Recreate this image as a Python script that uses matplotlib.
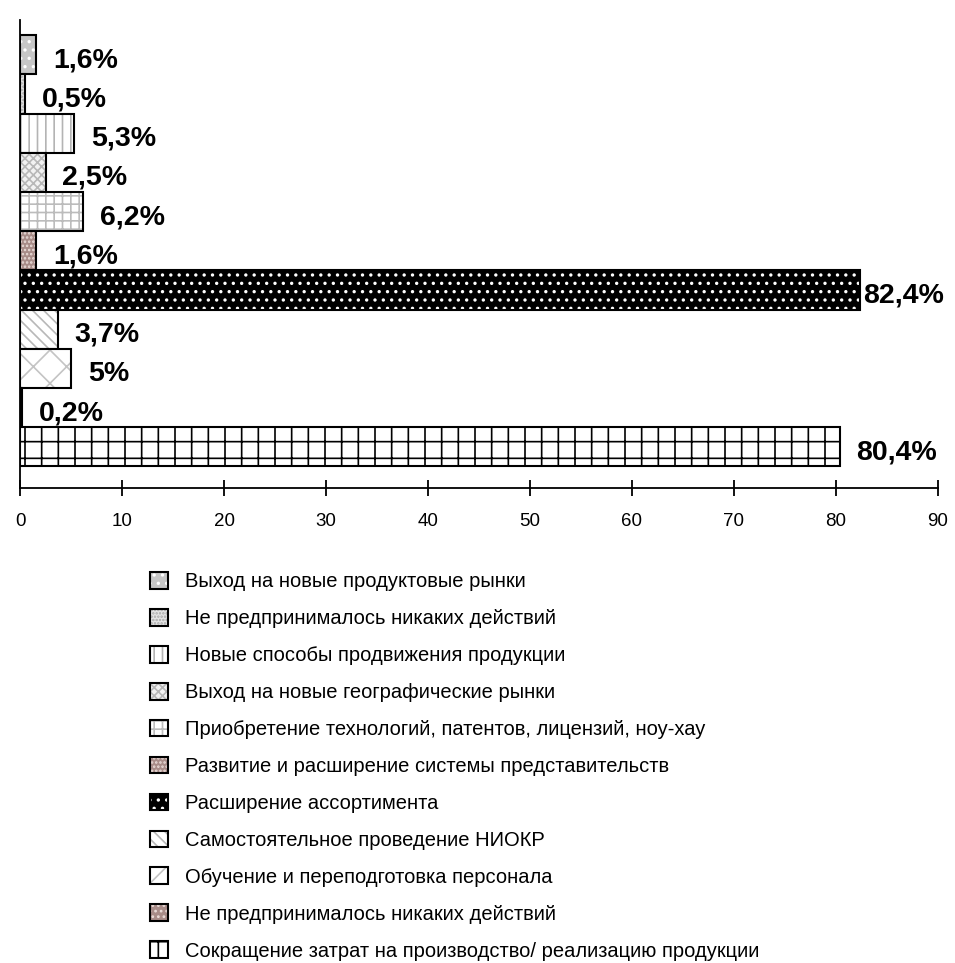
import matplotlib.pyplot as plt
from matplotlib.patches import Patch
from matplotlib.legend_handler import HandlerTuple

plt.rcParams['font.family'] = ['Liberation Sans', 'DejaVu Sans']
plt.rcParams['hatch.linewidth'] = 1.2

# data (top to bottom)
categories = [
    "Выход на новые продуктовые рынки",
    "Не предпринималось никаких действий",
    "Новые способы продвижения продукции",
    "Выход на новые географические рынки",
    "Приобретение технологий, патентов, лицензий, ноу-хау",
    "Развитие и расширение системы представительств",
    "Расширение ассортимента",
    "Самостоятельное проведение НИОКР",
    "Обучение и переподготовка персонала",
    "Не предпринималось никаких действий",
    "Сокращение затрат на производство/ реализацию продукции",
]
values = [1.6, 0.5, 5.3, 2.5, 6.2, 1.6, 82.4, 3.7, 5.0, 0.2, 80.4]
value_labels = ["1,6%", "0,5%", "5,3%", "2,5%", "6,2%", "1,6%",
                "82,4%", "3,7%", "5%", "0,2%", "80,4%"]
x_ticks = [0, 10, 20, 30, 40, 50, 60, 70, 80, 90]

# styles: fill colour, hatch colour, hatch
styles = [
    ("#c6c6c6", "white", ".."),
    ("#e4e4e4", "#a8a8a8", "....."),
    ("white", "#b4b4b4", "||"),
    ("#f2f2f2", "#b8b8b8", "xxxx"),
    ("white", "#bcbcbc", "++"),
    ("#a88c88", "#eadcd8", "...."),
    ("black", "white", ".."),
    ("white", "#b8b8b8", "\\\\\\"),
    ("white", "#c4c4c4", "x"),
    ("#a88c88", "#eadcd8", "..."),
    ("white", "black", "+"),
]
label_offsets = [12, 12, 12, 12, 12, 12, 2, 12, 12, 12, 12]

fig = plt.figure(figsize=(9.55, 9.63), dpi=100)
ax = fig.add_axes([0.021, 0.493, 0.961, 0.486])

ypos = list(range(len(values)))
handles = []
for i, (v, st) in enumerate(zip(values, styles)):
    fc, hc, hatch = st
    # fill + hatch first, black outline on top
    ax.barh(ypos[i], v, height=1.0, color=fc, edgecolor=hc, hatch=hatch, linewidth=0)
    ax.barh(ypos[i], v, height=1.0, fill=False, edgecolor="black", linewidth=1.5)
    ax.annotate(value_labels[i], (v, ypos[i]), xytext=(label_offsets[i], -4),
                textcoords="offset points", va="center", ha="left",
                fontsize=20.5, fontweight="bold")
    handles.append((Patch(facecolor=fc, edgecolor=hc, hatch=hatch, linewidth=0),
                    Patch(fill=False, edgecolor="black", linewidth=1.5)))

ax.set_xlim(0, 90)
ax.set_ylim(11.06, -0.88)
ax.set_xticks(x_ticks)
ax.set_xticklabels([str(t) for t in x_ticks], fontsize=13.5)
ax.set_yticks([])
ax.tick_params(axis="x", direction="inout", length=12, width=1.3, pad=12)
for s in ["top", "right"]:
    ax.spines[s].set_visible(False)
ax.spines["left"].set_linewidth(1.3)
ax.spines["bottom"].set_linewidth(1.3)

fig.legend(handles, categories, handler_map={tuple: HandlerTuple(ndivide=1, pad=0)},
           loc="upper left", bbox_to_anchor=(0.157, 0.406), frameon=False,
           fontsize=14.5, handlelength=0.9, handleheight=0.9, handletextpad=0.85,
           labelspacing=0.875, borderpad=0, borderaxespad=0)

fig.savefig("out.png", dpi=100, facecolor="white")
